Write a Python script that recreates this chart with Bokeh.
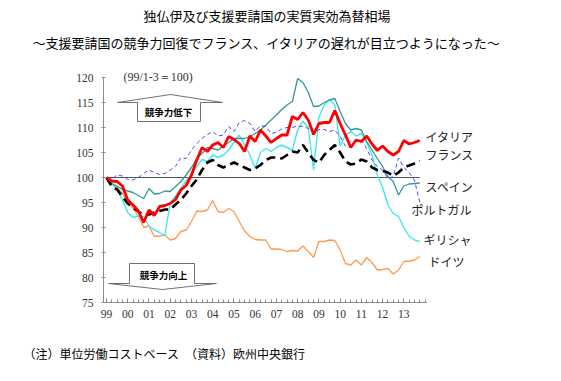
from bokeh.plotting import figure
from bokeh.models import Range1d, FixedTicker, Label, Title
from bokeh.embed import file_html
from bokeh.resources import INLINE

# ---------------- data (quarterly, 1999Q1 .. 2013Q4, 99/1-3 = 100) ----------------
quarters = list(range(60))
year_ticks = list(range(0, 60, 4))
year_labels = ["99", "00", "01", "02", "03", "04", "05", "06", "07", "08",
               "09", "10", "11", "12", "13"]
base_level = 100.0

italy = [100.0, 99.3, 99.2, 98.3, 95.5, 94.5, 93.3, 91.0, 93.5, 92.4,
         94.2, 94.4, 94.8, 95.6, 97.5, 98.4, 100.5, 103.5, 106.0, 105.2,
         106.5, 107.0, 106.0, 108.2, 107.6, 106.8, 105.2, 108.3, 107.2, 109.5,
         108.3, 107.0, 107.8, 108.5, 108.5, 112.2, 111.6, 113.0, 111.5, 108.6,
         110.8, 111.0, 111.0, 113.4, 110.8, 108.5, 106.0, 107.5, 107.2, 108.3,
         106.7, 105.4, 106.3, 105.2, 104.5, 105.2, 107.4, 106.7, 107.0, 107.4]

france = [100.0, 98.2, 97.6, 96.2, 94.8, 94.0, 93.2, 92.5, 92.6, 93.0,
          93.3, 93.6, 93.6, 94.6, 95.5, 96.8, 98.3, 99.6, 101.5, 103.0,
          103.5, 102.5, 102.0, 102.5, 103.0, 102.5, 102.0, 101.5, 101.8, 102.5,
          103.5, 104.0, 104.0, 103.8, 104.5, 105.2, 105.0, 106.5, 105.0, 103.5,
          103.0, 104.5, 105.5, 106.5, 105.0, 103.2, 102.6, 102.8, 103.6, 103.2,
          102.0, 101.5, 101.3, 101.0, 100.3, 101.0, 102.0, 102.4, 102.8, 103.3]

spain = [100.0, 98.8, 98.3, 97.6, 97.3, 97.0, 96.4, 95.8, 97.8, 96.7,
         96.8, 97.3, 97.2, 98.2, 99.2, 100.5, 102.0, 103.8, 104.8, 106.0,
         105.8, 105.5, 106.3, 107.0, 107.8, 107.8, 107.8, 108.2, 108.8, 109.5,
         110.5, 111.5, 112.5, 113.6, 114.5, 115.2, 119.8, 119.0, 117.0, 114.2,
         114.3, 115.0, 115.5, 115.8, 113.2, 110.8, 109.5, 109.8, 109.5, 107.2,
         105.5, 103.8, 102.2, 100.2, 99.2, 96.5, 98.3, 98.7, 98.8, 98.9]

portugal = [100.0, 99.7, 100.5, 100.3, 99.6, 99.5, 100.0, 100.8, 101.5, 101.0,
            100.6, 100.8, 101.5, 102.2, 104.0, 103.8, 105.5, 106.8, 107.8, 108.6,
            109.2, 108.3, 108.5, 110.2, 109.2, 111.0, 111.4, 110.8, 109.2, 110.4,
            110.2, 108.8, 109.0, 109.7, 110.0, 110.0, 110.3, 110.2, 109.8, 108.8,
            109.6, 109.6, 109.2, 109.5, 108.2, 106.3, 107.2, 107.2, 107.5, 105.8,
            103.5, 102.2, 101.5, 99.8, 100.2, 103.9, 102.0, 101.0, 99.5, 95.0]

greece = [100.0, 98.8, 97.5, 95.5, 93.0, 92.0, 92.3, 92.2, 90.3, 89.5,
          89.0, 88.4, 95.0, 96.3, 97.8, 99.3, 100.5, 102.2, 103.6, 103.2,
          104.5, 104.0, 104.5, 105.5, 107.0, 108.5, 106.5, 104.5, 101.8, 105.0,
          105.8, 105.2, 106.0, 106.5, 106.0, 105.5, 109.5, 111.3, 110.0, 101.5,
          112.0, 114.5, 115.6, 114.5, 106.3, 108.5, 109.2, 108.3, 108.8, 107.0,
          104.5, 100.5, 98.0, 94.5, 92.8, 92.2, 90.0, 88.2, 87.5, 87.2]

germany = [100.0, 98.8, 98.0, 96.8, 95.0, 93.8, 92.2, 90.0, 90.3, 88.2,
           88.3, 88.5, 87.5, 87.8, 89.2, 89.5, 91.2, 93.3, 93.2, 93.5,
           95.4, 93.2, 93.0, 93.8, 93.2, 91.2, 89.3, 88.2, 87.6, 87.5,
           87.5, 85.7, 85.7, 85.6, 85.2, 85.4, 85.3, 86.3, 85.2, 84.0,
           87.2, 87.2, 87.5, 87.4, 85.5, 82.8, 82.5, 83.5, 82.5, 84.0,
           83.0, 81.5, 81.6, 81.8, 80.7, 81.5, 83.2, 83.3, 83.5, 84.2]

title_1 = "独仏伊及び支援要請国の実質実効為替相場"
title_2 = "～支援要請国の競争力回復でフランス、イタリアの遅れが目立つようになった～"
footer_text = "（注）単位労働コストベース　（資料）欧州中央銀行"

# ---------------- geometry (page px; the page has no body margin) ----------------
PAGE_W = 560
AX_L, AX_B = 103, 302           # y-axis x position, x-axis y position (page px)
FRAME_TOP = 57
PX_PER_Q, PX_PER_UNIT = 5.31, 5.0
Y_MIN, Y_MAX = 75, 120
Q_MIN, Q_MAX = -0.565, 60.26

jp = "Noto Sans CJK JP"
serif = "Liberation Serif"

FW = PAGE_W - AX_L
FH = AX_B - FRAME_TOP
p = figure(frame_width=FW, frame_height=FH,
           x_range=Range1d(Q_MIN, Q_MIN + FW / PX_PER_Q),
           y_range=Range1d(Y_MIN, Y_MIN + FH / PX_PER_UNIT),
           output_backend="svg", toolbar_location=None, title=None)
p.min_border_left = AX_L
p.min_border_top = FRAME_TOP
p.min_border_right = 0
p.min_border_bottom = 70
p.outline_line_color = None
p.xgrid.visible = False
p.ygrid.visible = False
p.background_fill_color = "white"
p.border_fill_color = "white"

axis_color = "#8c8c8c"

p.yaxis.bounds = (Y_MIN, Y_MAX)
p.yaxis.ticker = FixedTicker(ticks=list(range(Y_MIN, Y_MAX + 1, 5)))
p.yaxis.axis_line_color = axis_color
p.yaxis.major_tick_line_color = axis_color
p.yaxis.major_tick_in = 2
p.yaxis.major_tick_out = 2
p.yaxis.minor_tick_line_color = None
p.yaxis.major_label_text_font = serif
p.yaxis.major_label_text_font_size = "11.5px"
p.yaxis.major_label_text_color = "#333333"
p.yaxis.major_label_standoff = 8

p.xaxis.bounds = (Q_MIN, Q_MAX)
p.xaxis.ticker = FixedTicker(ticks=year_ticks, minor_ticks=quarters + [60])
p.xaxis.major_label_overrides = {t: lab for t, lab in zip(year_ticks, year_labels)}
p.xaxis.axis_line_color = axis_color
p.xaxis.major_tick_line_color = axis_color
p.xaxis.minor_tick_line_color = axis_color
p.xaxis.major_tick_in = 4
p.xaxis.major_tick_out = 0
p.xaxis.minor_tick_in = 3
p.xaxis.minor_tick_out = 0
p.xaxis.major_label_text_font = serif
p.xaxis.major_label_text_font_size = "11.5px"
p.xaxis.major_label_text_color = "#333333"
p.xaxis.major_label_standoff = 7

# baseline 100
p.line(quarters, [base_level] * len(quarters), line_color="#555555", line_width=1.2)

# series
p.line(quarters, germany, line_color="#FF9955", line_width=1.3)
p.line(quarters, greece, line_color="#40E8F0", line_width=1.4)
p.line(quarters, spain, line_color="#2E9A9A", line_width=1.3)
p.line(quarters, portugal, line_color="#4A4AF5", line_width=1.0, line_dash="4 3")
p.line(quarters, france, line_color="#000000", line_width=2.6, line_dash="9 5")
p.line(quarters, italy, line_color="#FF0000", line_width=2.8)

# arrow boxes (annotation shapes, in axis units)
up_x = [2.07, 5.84, 5.84, 17.7, 17.7, 21.85, 12.05]
up_y = [115.0, 115.0, 111.2, 111.2, 115.0, 115.0, 116.6]
p.patch(up_x, up_y, fill_color="white", line_color="#707070", line_width=1)
dn_x = [4.33, 16.57, 16.57, 20.7, 10.55, 0.38, 4.33]
dn_y = [82.8, 82.8, 78.8, 78.8, 77.6, 78.8, 78.8]
p.patch(dn_x, dn_y, fill_color="white", line_color="#707070", line_width=1)


def add_label(text, px, py, size="12px", font=jp, align="left", bold=False, color="#000000"):
    p.add_layout(Label(x=px - AX_L, y=AX_B - py, x_units="screen", y_units="screen",
                       text=text, text_font=font, text_font_size=size,
                       text_align=align, text_baseline="middle", text_color=color,
                       text_font_style="bold" if bold else "normal"))


add_label("競争力低下", 168, 111.5, size="9.5px", align="center", bold=True)
add_label("競争力向上", 163, 274, size="9.5px", align="center", bold=True)
add_label("(99/1-3＝100)", 123, 76, size="12px", font=serif, color="#333333")

lab_col = "#222222"
add_label("イタリア", 425, 136, color=lab_col)
add_label("フランス", 425, 154, color=lab_col)
add_label("スペイン", 425, 186, color=lab_col)
add_label("ポルトガル", 411, 209, color=lab_col)
add_label("ギリシャ", 423, 239, color=lab_col)
add_label("ドイツ", 428, 261, color=lab_col)

# ---- titles (above the frame; first added is nearest the frame) ----
p.add_layout(Title(text=title_2, align="left", offset=32 - AX_L, standoff=10,
                   vertical_align="middle", text_font=jp, text_font_size="13px",
                   text_font_style="normal", text_color="#000000"), "above")
p.add_layout(Title(text=title_1, align="left", offset=143 - AX_L, standoff=2,
                   vertical_align="middle", text_font=jp, text_font_size="13px",
                   text_font_style="normal", text_color="#000000"), "above")

# ---- footer (below the x axis); the leading empty line pushes it down ----
p.add_layout(Title(text="\n" + footer_text, align="left", offset=23 - AX_L, standoff=10,
                   vertical_align="bottom", text_font=jp, text_font_size="12px",
                   text_font_style="normal", text_color="#000000"), "below")

open("out.html", "w").write(file_html(p, INLINE))
